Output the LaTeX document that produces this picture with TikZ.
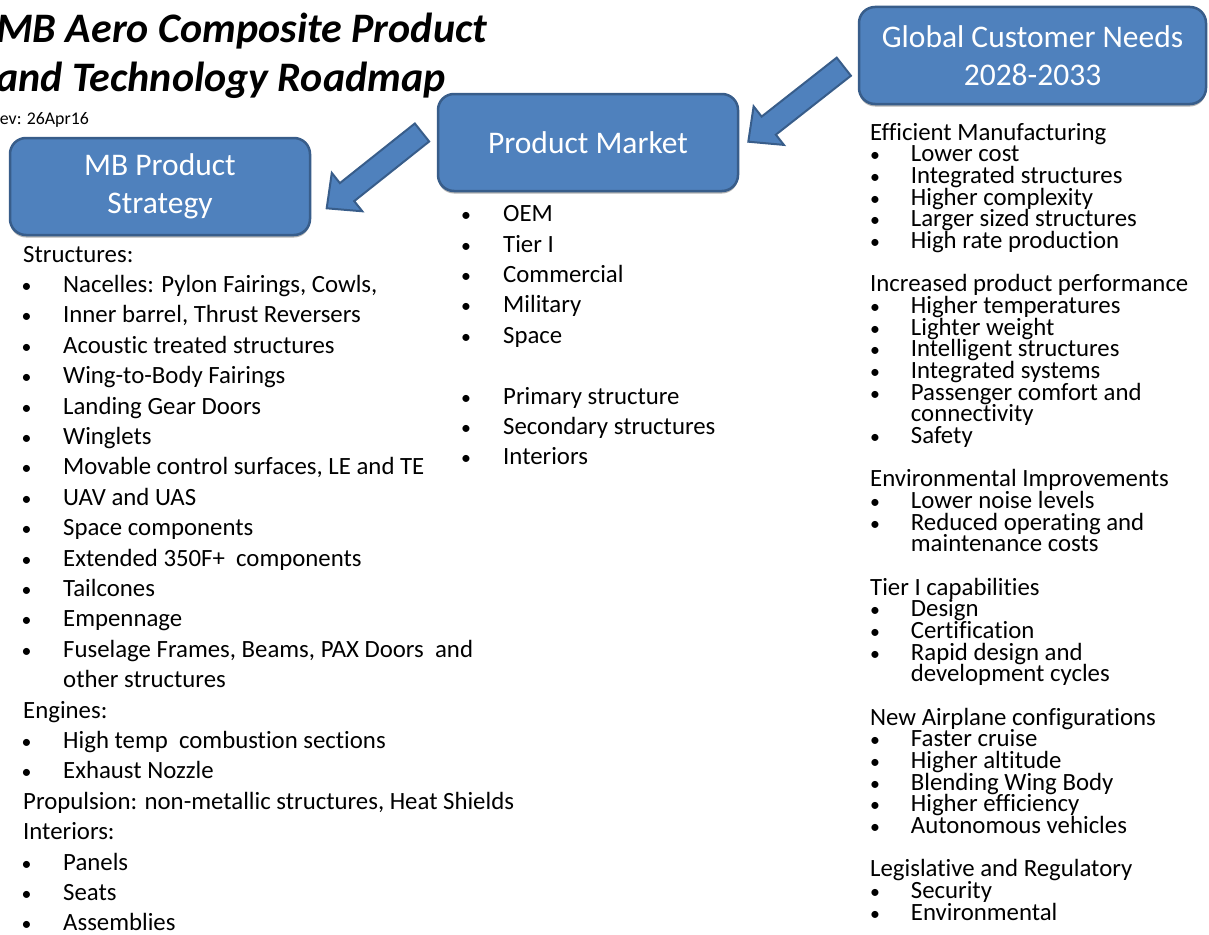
\documentclass[tikz,border=0pt]{standalone}
\usepackage{graphicx}
\usepackage{fontspec}
\setmainfont{Carlito}[Ligatures=NoCommon]
\usetikzlibrary{calc,shadows}
\definecolor{boxfill}{RGB}{79,129,189}
\definecolor{boxline}{RGB}{56,93,138}
\newcommand\Lh[1]{\hbox{#1}}
\newcommand\Lb[3]{\hbox{\makebox[#2][l]{\kern#1\scalebox{0.8}{•}}#3}}
\newcommand\Lc[2]{\hbox{\hspace{#1}#2}}
\newcommand\Le{\hbox{}}
\newcommand\barrow[3]{%
  \coordinate (#1b) at ($(#3)!26pt!(#2)$);
  \draw[blockarrow] ($(#2)!11.5pt!90:(#3)$) -- ($(#1b)!11.5pt!90:(#3)$) -- ($(#1b)!24.5pt!90:(#3)$) -- (#3) -- ($(#1b)!24.5pt!-90:(#3)$) -- ($(#1b)!11.5pt!-90:(#3)$) -- ($(#2)!11.5pt!-90:(#3)$) -- cycle;}
\tikzset{
  hbox/.style={draw=boxline, fill=boxfill, line width=2.5pt, rounded corners=16pt, text=white, align=center,
    font=\fontsize{31.5}{38.5}\selectfont, inner sep=0pt,
    drop shadow={shadow xshift=0pt, shadow yshift=-2.5pt, opacity=0.3, fill=black}},
  blockarrow/.style={draw=boxline, fill=boxfill, line width=2pt, line join=miter},
  listtext/.style={anchor=base west, inner sep=0pt, font=\fontsize{24.8}{30.4}\selectfont},
}
\begin{document}
\begin{tikzpicture}[x=1pt,y=-1pt]
\fill[white] (0,0) rectangle (1209,934);
\useasboundingbox (0,0) rectangle (1209,934);

% title
\node[anchor=base west, inner sep=0pt, font=\fontsize{42}{48}\selectfont\bfseries\itshape] (title) at (-4,43)
  {\vtop{\lineskiplimit=-\maxdimen\baselineskip=48pt \hbox{MB Aero Composite Product}\hbox{and Technology Roadmap}}};
\node[anchor=base west, inner sep=0pt, font=\fontsize{17.8}{20}\selectfont] (rev) at (-9.6,124) {Rev: 26Apr16};

% boxes
\node[hbox, minimum width=300pt, minimum height=97pt] (strat) at (160,186.5) {MB Product\\Strategy};
\node[hbox, minimum width=300pt, minimum height=97pt] (market) at (588,142.5) {Product Market};
\node[hbox, minimum width=347pt, minimum height=97pt] (global) at (1032.5,55.5) {Global Customer Needs\\2028-2033};

% block arrows
\coordinate (a1t) at (422,132.5);
\coordinate (a1p) at (326.7,208.3);
\coordinate (a2t) at (843.8,66.7);
\coordinate (a2p) at (748.3,141.7);
\barrow{a1}{a1t}{a1p}
\barrow{a2}{a2t}{a2p}

% left list
\node[listtext] (stratlist) at (23,262) {\vtop{\lineskiplimit=-\maxdimen\baselineskip=30.4pt
  \Lh{Structures:}
  \Lb{-1.5pt}{40pt}{Nacelles: Pylon Fairings, Cowls,}
  \Lb{-1.5pt}{40pt}{Inner barrel, Thrust Reversers}
  \Lb{-1.5pt}{40pt}{Acoustic treated structures}
  \Lb{-1.5pt}{40pt}{Wing-to-Body Fairings}
  \Lb{-1.5pt}{40pt}{Landing Gear Doors}
  \Lb{-1.5pt}{40pt}{Winglets}
  \Lb{-1.5pt}{40pt}{Movable control surfaces, LE and TE}
  \Lb{-1.5pt}{40pt}{UAV and UAS}
  \Lb{-1.5pt}{40pt}{Space components}
  \Lb{-1.5pt}{40pt}{Extended 350F+\ \ components}
  \Lb{-1.5pt}{40pt}{Tailcones}
  \Lb{-1.5pt}{40pt}{Empennage}
  \Lb{-1.5pt}{40pt}{Fuselage Frames, Beams, PAX Doors\ \ and}
  \Lc{40pt}{other structures}
  \Lh{Engines:}
  \Lb{-1.5pt}{40pt}{High temp\ \ combustion sections}
  \Lb{-1.5pt}{40pt}{Exhaust Nozzle}
  \Lh{Propulsion: non-metallic structures, Heat Shields}
  \Lh{Interiors:}
  \Lb{-1.5pt}{40pt}{Panels}
  \Lb{-1.5pt}{40pt}{Seats}
  \Lb{-1.5pt}{40pt}{Assemblies}}};

% middle list
\node[listtext] (marketlist) at (461,221.7) {\vtop{\lineskiplimit=-\maxdimen\baselineskip=30.4pt
  \Lb{0pt}{42pt}{OEM}
  \Lb{0pt}{42pt}{Tier I}
  \Lb{0pt}{42pt}{Commercial}
  \Lb{0pt}{42pt}{Military}
  \Lb{0pt}{42pt}{Space}
  \Le
  \Lb{0pt}{42pt}{Primary structure}
  \Lb{0pt}{42pt}{Secondary structures}
  \Lb{0pt}{42pt}{Interiors}}};

% right list
\node[listtext] (globallist) at (870,140) {\vtop{\lineskiplimit=-\maxdimen\baselineskip=21.67pt
  \Lh{Efficient Manufacturing}
  \Lb{0pt}{40.7pt}{Lower cost}
  \Lb{0pt}{40.7pt}{Integrated structures}
  \Lb{0pt}{40.7pt}{Higher complexity}
  \Lb{0pt}{40.7pt}{Larger sized structures}
  \Lb{0pt}{40.7pt}{High rate production}
  \Le
  \Lh{Increased product performance}
  \Lb{0pt}{40.7pt}{Higher temperatures}
  \Lb{0pt}{40.7pt}{Lighter weight}
  \Lb{0pt}{40.7pt}{Intelligent structures}
  \Lb{0pt}{40.7pt}{Integrated systems}
  \Lb{0pt}{40.7pt}{Passenger comfort and}
  \Lc{40.7pt}{connectivity}
  \Lb{0pt}{40.7pt}{Safety}
  \Le
  \Lh{Environmental Improvements}
  \Lb{0pt}{40.7pt}{Lower noise levels}
  \Lb{0pt}{40.7pt}{Reduced operating and}
  \Lc{40.7pt}{maintenance costs}
  \Le
  \Lh{Tier I capabilities}
  \Lb{0pt}{40.7pt}{Design}
  \Lb{0pt}{40.7pt}{Certification}
  \Lb{0pt}{40.7pt}{Rapid design and}
  \Lc{40.7pt}{development cycles}
  \Le
  \Lh{New Airplane configurations}
  \Lb{0pt}{40.7pt}{Faster cruise}
  \Lb{0pt}{40.7pt}{Higher altitude}
  \Lb{0pt}{40.7pt}{Blending Wing Body}
  \Lb{0pt}{40.7pt}{Higher efficiency}
  \Lb{0pt}{40.7pt}{Autonomous vehicles}
  \Le
  \Lh{Legislative and Regulatory}
  \Lb{0pt}{40.7pt}{Security}
  \Lb{0pt}{40.7pt}{Environmental}}};
\end{tikzpicture}
\end{document}
